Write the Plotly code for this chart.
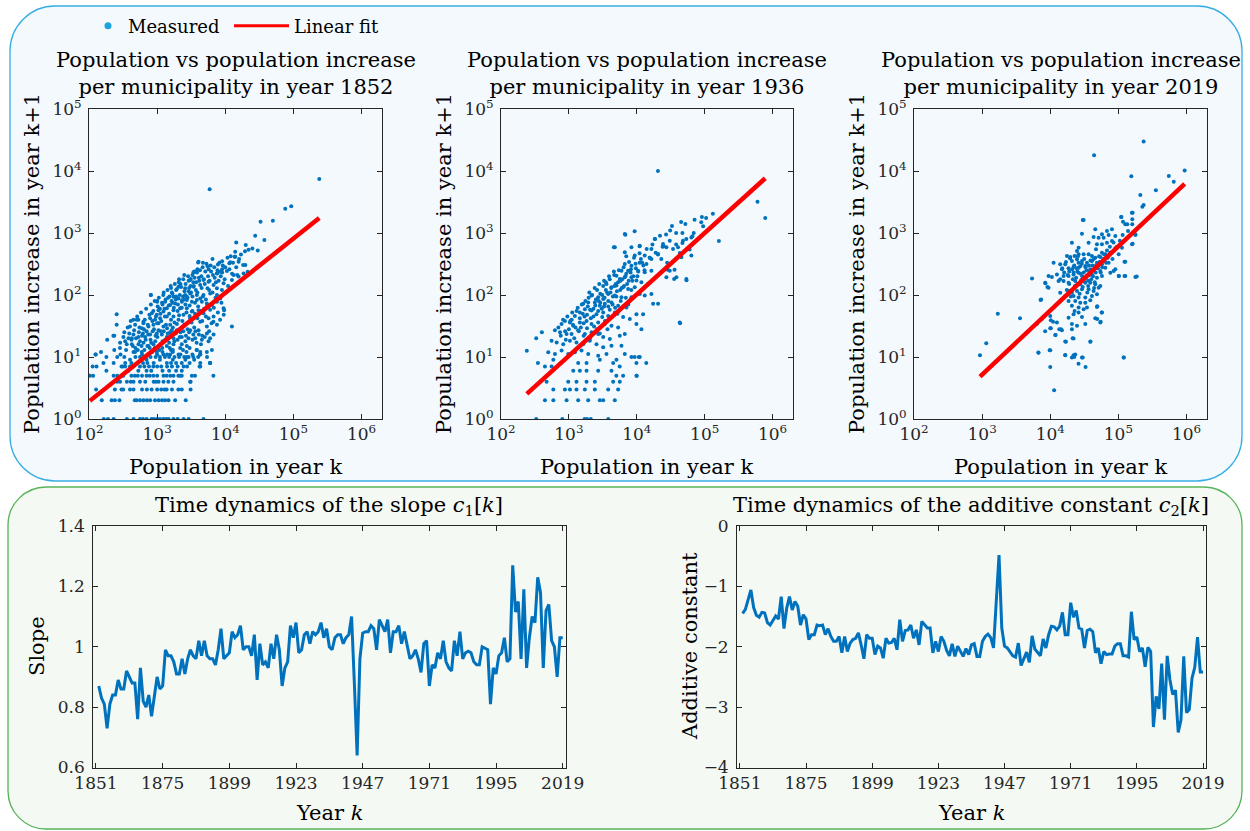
import numpy as np
import plotly.graph_objects as go

W, H = 1250, 831
FONT = "DejaVu Serif"
BLUE = "#0072BD"
INK = "#262626"

def X(p):
    return p / W

def Y(p):
    return 1 - p / H

# ---------------- data: scatter panels (population k, increase k+1) ----------------
pts_1852 = [
    (165,1),(190,1),(230,1),(360,1),(450,1),(560,1),(620,1),(700,1),(830,1),(900,1),(1000,1),(1100,1),(1230,1),(1350,1),(1470,1),(1740,1),(2000,1),(2450,1),(2900,1),(4800,1),
    (154,2),(215,2),(240,2),(280,2),(470,2),(500,2),(560,2),(630,2),(708,2),(790,2),(930,2),(1050,2),(1180,2),(1310,2),(1470,2),(1840,2),(2630,2),
    (127,3),(240,3),(300,3),(318,3),(400,3),(450,3),(600,3),(708,3),(830,3),(1000,3),(1150,3),(1290,3),(1380,3),(1650,3),(2050,3),(2300,3),(3100,3),
    (260,4),(286,4),(360,4),(410,4),(450,4),(560,4),(670,4),(890,4),(960,4),(1050,4),(1240,4),(1460,4),(1740,4),(3100,4),
    (103,5),(115,5),(230,5),(260,5),(318,5),(420,5),(470,5),(520,5),(600,5),(700,5),(780,5),(880,5),(1000,5),(1240,5),(1380,5),(1560,5),(1740,5),(2050,5),(2200,5),(2300,5),(3600,5),(6700,5),
    (180,6),(380,6),(530,6),(700,6),(820,6),(1200,6),(1500,6),(1900,6),(2300,6),
    (113,7),(129,7),(312,7),(340,7),(400,7),(450,7),(560,7),(650,7),(760,7),(880,7),(1000,7),(1150,7),(1400,7),(1650,7),(2000,7),(2450,7),(2750,7),(4200,7),
    (230,8),(340,8),(420,8),(620,8),(720,8),(890,8),(1390,8),(1600,8),(1900,8),(2300,8),(3000,8),(4300,8),(6000,8),
    (400,9),(700,9),(1100,9),(1700,9),(2600,9),(3500,9),
    (180,10),(260,10),(330,10),(480,10),(560,10),(680,10),(800,10),(950,10),(1100,10),(1300,10),(1500,10),(1800,10),(2100,10),(2500,10),(2900,10),(3400,10),(4000,10),(5400,10),
    (125,11),(290,11),(600,11),(1000,11),(1400,11),(2200,11),(3300,11),(4300,11),
    (150,12),(450,12),(850,12),(1200,12),(1700,12),(2700,12),
    (235,13),(520,13),(950,13),(1600,13),(2400,13),(3800,13),
    (4055,344),(11850,336),(14040,415),(15700,344),(19700,305),(21300,238),(3126,181),(3620,238),(7550,223),(8450,238),
    (10590,244),(13270,210),(15700,198),(18600,223),(4800,175),(5690,164),(6740,145),(9460,154),(12540,175),(2060,136),
    (2580,128),(3420,136),(4290,145),(5490,128),(7550,128),(8940,120),(10590,113),(807,100),(1312,78),(1738,94),
    (2060,88),(2580,100),(3056,106),(3830,100),(4800,100),(6010,106),(7550,100),(8450,88),(1047,57),(1553,69),
    (1840,73),(2305,78),(2730,83),(3236,78),(3830,83),(4540,78),(5370,73),(6370,69),(7550,78),(9460,61),
    (835,51),(989,48),(1240,54),(1388,61),(1738,57),(2180,61),(2730,61),(3236,54),(4055,57),(4800,51),
    (5690,42),(6740,45),(12540,31),(502,40),(630,37),(789,42),(935,40),(1107,42),(1388,45),(1738,45),
    (2060,40),(2440,48),(3056,42),(4290,37),(5370,31),(7550,33),(400,31),(475,33),(596,29),(746,31),
    (883,33),(1047,35),(1240,31),(1553,33),(1945,27),(2440,31),(3056,27),(4055,27),(5370,24),(6740,23),
    (320,21),(380,20),(449,23),(532,21),(667,21),(789,23),(989,24),(1172,23),(1388,21),(1738,20),
    (2305,21),(2890,20),(3620,20),(4540,19),(5690,18),(286,17),(358,16),(425,16),(532,16),(630,17),
    (746,15),(883,16),(1107,16),(1388,15),(1738,16),(2180,14),(2730,15),(3830,13),(5370,12),(6370,13),
    (4290,11),(475,12),(596,12),(746,11),(989,12),(1240,11),(1553,11),(2060,11),(2730,10),(6010,8),
    (4290,7),(3236,5),(3056,4),
    (1200,70),(1450,90),(1650,110),(1900,120),(2200,150),(2400,95),(2600,70),(2900,115),(3100,140),(3400,160),
    (3700,120),(4100,190),(4500,130),(5000,150),(5600,200),(6200,240),(7000,190),(8000,170),(9000,260),(10000,280),
    (1100,60),(1300,45),(1500,50),(1700,75),(2000,55),(2300,62),(2500,85),(2800,90),(3000,68),(3300,95),
    (3600,75),(3900,110),(4300,88),(4700,95),(5200,85),(5800,120),(6500,110),(7200,90),(8800,75),(11000,140),
    (900,28),(1000,35),(1150,38),(1350,33),(1600,40),(1800,36),(2100,47),(2350,38),(2700,52),(3000,46),
    (3300,55),(3600,50),(4000,65),(4400,55),(4900,60),(5400,66),(6000,58),(6800,62),(7800,52),(9500,48),
    (600,22),(700,26),(800,19),(950,22),(1050,27),(1250,26),(1400,29),(1550,25),(1700,30),(1950,34),
    (2200,25),(2500,33),(2800,28),(3200,36),(3500,30),(3900,42),(4600,38),(5200,45),(6300,35),(8400,40),
    (350,13),(420,19),(480,14),(560,18),(650,13),(720,15),(820,17),(920,14),(1080,13),(1200,18),
    (1500,17),(1700,13),(2000,19),(2300,16),(2600,18),(3000,14),(3400,23),(3800,17),(4600,22),(5800,26),
    (1000,80),(1250,110),(1600,130),(1900,95),(2100,180),(2500,210),(2900,170),(3400,230),(3900,260),(4700,330),
    (5500,290),(6500,380),(7800,310),(9000,350),(12000,420),(14000,500),(16000,380),(20000,640),(25000,560),(30000,520),
    (5900,5100),(240000,7400),(93000,2700),(76000,2450),(50000,1580),(33000,1520),(27500,900),(37500,770),(14500,700),(19500,510),
    (22000,535),(13700,415),(11500,325),(18300,305),(4000,335),(3500,240),(7600,225),(9000,230),(15000,210),(12600,220),
    (810,100),(1000,78),(255,49),(255,33),(185,19),(235,22),(125,11),(163,8),(9600,57),(6700,37),
    (6000,20),(4300,12),(228,22),(285,14),(300,7),(425,20),(447,40),(530,40),(630,35),(6000,8),
    (330,25),(370,30),(410,38),(460,27),(510,45),(550,30),(580,52),(620,24),(660,40),(690,60),
    (730,33),(770,48),(810,70),(850,38),(880,55),(920,80),(960,45),(1020,65),(1060,90),(1120,50),
    (1180,75),(1230,100),(1280,60),(1330,85),(1420,120),(1480,68),(1520,95),(1580,140),(1630,80),(1680,105),
    (1760,62),(1820,150),(1880,85),(1950,125),(2020,70),(2080,160),(2150,100),(2250,135),(2320,82),(2420,180),
    (2520,115),(2620,150),(2720,95),(2850,200),(2950,130),(3050,175),(3150,110),(3300,210),(3450,140),(3550,190),
    (3750,160),(3850,230),(4150,170),(4250,250),(4450,200),(4650,280),(4850,180),(5100,240),(5300,320),(5700,260),
    (5900,170),(6100,300),(6600,210),(6900,280),(7300,160),(7700,250),(8200,330),(8600,200),(9200,300),(9800,180),
    (10800,400),(11500,260),(13000,330),(14500,280),(17000,450),
    (340,18),(390,24),(440,15),(490,20),(540,25),(590,15),(640,28),(680,19),(740,23),(780,14),
    (860,26),(940,18),(1010,21),(1130,26),(1190,14),(1310,19),(1430,24),(1530,14),(1640,27),(1790,18),
    (1880,24),(2150,21),(2420,26),(2650,22),(2950,25),(3300,19),(3650,26),(4100,23),(4400,16),(5000,21),
]

pts_1936 = [
    (330,1),(800,1),(1700,1),(1850,1),(2100,1),(3800,1),
    (444,2),(590,2),(925,2),(1370,2),(1925,2),(2855,2),(3200,2),(4750,2),
    (590,3),(874,3),(1035,3),(1295,3),(1720,3),(2410,3),(3790,3),(5310,3),
    (470,4),(978,4),(1295,4),(1820,4),(2410,4),(4490,4),(5620,4),
    (6290,5),(9880,5),(5000,5),(10000,5),
    (1160,6),(1450,6),(1820,6),(2700,6),(4240,6),
    (444,7),(556,7),(5600,7),(13800,8),(350,8),
    (590,9),(1370,8),(1820,8),(2855,9),(4490,8),(5020,9),(9880,8),
    (8340,10),(11060,10),(9300,10),(10700,10),
    (20500,10000),(600000,3200),(780000,1750),(162000,740),(132000,2050),(91000,1820),(105000,1740),(71000,1630),(89000,1490),(95000,1280),
    (69000,1000),(66000,890),(60000,540),(54000,173),(35500,182),(47000,690),(38000,650),(43000,475),(31000,1100),(47000,1000),
    (9300,1070),(6800,940),(4600,590),(18600,800),(43500,35),(240,12.6),(330,20),(400,25),
    (25000,610),(28000,330),(28500,255),(36000,255),(11000,610),(7000,420),(11000,330),(15500,400),(20500,450),
    (6660,964),(18380,800),(30600,752),(48000,752),(53700,800),(63700,850),(24370,665),(27300,588),(34200,553),(40500,588),
    (4750,588),(6660,488),(8340,588),(11060,625),(16420,553),(13100,432),(9340,432),(20580,459),(63700,432),(45400,406),
    (16420,381),(23000,381),(13860,316),(6660,316),(8340,297),(5950,247),(7450,247),(10450,247),(13100,232),(16420,247),
    (30600,247),(38300,193),(53700,181),(27300,193),(5020,205),(5620,181),(6660,193),(8340,193),(9880,171),(11700,160),
    (14670,151),(3580,151),(4240,133),(5020,142),(6290,133),(7450,125),(9340,133),(11060,104),(13100,98),(16420,104),
    (2155,98),(2700,92),(3200,86),(3790,104),(4750,98),(5950,92),(8340,92),(20580,72),(17400,72),(1625,72),
    (1925,76),(2410,76),(2855,67),(3385,72),(4240,76),(5310,67),(7040,63),(9880,49),(12380,49),(1225,46),
    (1450,52),(1720,59),(2155,56),(2550,49),(3200,52),(3790,46),(4750,52),(6290,44),(7890,41),(9880,34),
    (11700,28),(874,38),(1035,36),(780,34),(1160,32),(1450,36),(1820,38),(2155,34),(2700,36),(3385,34),
    (4240,32),(5310,30),(6660,23.5),(623,27),(740,25),(925,23.5),(1095,23.5),(1370,27),(1720,23.5),(2155,25),
    (2700,23.5),(3200,21),(4010,19.5),(5620,22),(556,18.3),(660,17.2),(826,16),(1035,18.3),(1295,17.2),(1625,16),
    (2035,18.3),(2550,16),(3200,14.3),(4240,15.2),(5950,15.2),(497,11.9),(623,11.2),(780,12.7),(978,11.2),(1225,11.9),
    (1535,12.7),(1925,11.2),(2700,10.5),(3580,11.2),(6660,11.2),(42900,36),
    (1100,40),(1300,55),(1500,30),(1700,45),(1900,65),(2100,42),(2300,60),(2500,85),(2700,55),(2900,75),
    (3100,100),(3300,65),(3500,120),(3800,80),(4100,110),(4400,70),(4700,140),(5000,95),(5300,160),(5700,120),
    (6100,180),(6500,140),(7000,220),(7600,170),(8200,260),(8900,200),(9600,320),(10500,240),(11500,380),(12500,300),
    (1200,20),(1400,26),(1650,22),(1850,29),(2050,20),(2350,31),(2600,28),(2850,24),(3100,44),(3400,38),
    (3700,28),(4000,58),(4400,45),(4800,62),(5200,50),(5800,80),(6300,65),(6900,90),(7500,70),(8300,120),
    (900,19),(1000,28),(1150,33),(1600,50),(2000,110),(2400,130),(2800,150),(3300,170),(3900,200),(4600,240),
    (700,30),(760,22),(820,40),(880,26),(950,45),(1050,38),(1120,52),(1250,30),(1350,62),(1450,42),
    (1550,70),(1650,35),(1750,80),(1850,48),(1950,90),(2050,58),(2200,100),(2300,45),(2450,68),(2600,120),
    (2750,80),(2900,105),(3050,60),(3200,140),(3350,90),(3500,160),(3650,110),(3800,65),(4000,180),(4200,130),
    (4450,95),(4650,210),(4900,150),(5100,115),(5450,250),(5750,170),(6000,130),(6400,280),(6800,200),(7200,150),
    (7700,340),(8100,230),(8600,170),(9100,400),(9700,270),(10200,200),(11000,470),(12000,330),(13000,250),(14000,550),
    (15500,400),(17000,650),(19000,480),(22000,900),(24000,600),(27000,950),(33000,1300),(38000,1000),(45000,1500),(52000,1400),
]

pts_2019 = [
    (235000,30000),(44000,18000),(940000,10200),(550000,8300),(650000,6700),(155000,8200),(355000,4900),(210000,4100),(235000,2830),(225000,2650),
    (158000,2130),(160000,1660),(160000,1380),(110000,1820),(117000,1520),(135000,1380),(178000,930),(162000,670),(123000,345),(123000,203),
    (102000,203),(186000,198),(30000,1620),(5400,185),(3600,42),(1700,50),(1150,16.6),(930,10.7),(7200,83),(8500,155),
    (9100,134),(6700,11.8),(9800,12.8),(10000,6.9),(11400,2.9),(16600,10.7),(22000,10.7),(22500,10),(30000,9.8),(26000,7.8),
    (33000,6.9),(39000,17.8),(120000,9.8),(10200,29),(12000,22.6),(14400,28),(10200,39),(11000,37),(16600,17.8),(21300,20),
    (49000,66),(57000,52),(49000,41),(55000,37),
    (30900,1620),(110700,1810),(126500,1380),(162000,2130),(80500,1146),(68000,1077),(57400,953),(45820,1146),(43300,862),(51300,841),
    (60800,841),(72000,929),(90200,895),(115600,929),(138600,1077),(177600,953),(29200,977),(158500,656),(36560,698),(48500,656),
    (57400,656),(68000,698),(80500,743),(20800,698),(24700,512),(26070,580),(90200,566),(113000,580),(76200,482),(57400,482),
    (46900,546),(17600,426),(19700,410),(22800,426),(26070,453),(30900,453),(36560,453),(40930,426),(45820,400),(54300,410),
    (64300,453),(101000,453),(11200,332),(14000,312),(16600,312),(20800,354),(24700,376),(29200,354),(34600,332),(40930,354),
    (48500,332),(57400,312),(72000,332),(126500,345),(14830,260),(18580,269),(22000,283),(26070,276),(32700,294),(38700,260),
    (45820,276),(54300,244),(64300,276),(90200,260),(76200,229),(85200,244),(101000,203),(126500,203),(177600,195),(9440,203),
    (10570,195),(12530,215),(15700,203),(18580,203),(22000,215),(26070,229),(34600,203),(40930,215),(48500,190),(57400,203),
    (8430,158),(13250,168),(15700,168),(18580,158),(23300,168),(27600,149),(32700,158),(38700,158),(45820,149),(54300,140),
    (9440,131),(14000,109),(18580,116),(20800,109),(24700,116),(29200,124),(36560,124),(43300,116),(51300,131),(16600,96),
    (22000,96),(26070,91),(32700,91),(40930,96),(48500,103),(7360,85),(18580,80),(23300,80),(27600,75),(32700,75),
    (38700,82),(20800,67),(26070,63),(30900,59),(34600,63),(48500,64),(22800,55),(26070,52),(57400,52),(10000,46),
    (18580,43),(22000,49),(29200,44),(45820,42),(7530,41),(12530,36),(54300,36),(6350,34),(20800,34),(24700,32),
    (32700,34),(10000,29),(13550,28),(14830,27),(8430,26),(20800,28),(11830,22.6),(22000,19.8),(17000,17.7),(38700,17.7),
    (6730,11.7),(10000,12.8),(16600,10.8),(20800,9.8),(23300,11),(29200,9.8),(119700,9.8),
    (16000,230),(19000,150),(21000,260),(24000,190),(26000,330),(28000,220),(31000,170),(33000,280),(36000,140),(39000,360),
    (42000,250),(47000,300),(52000,420),(60000,380),(68000,520),(75000,600),(85000,700),(17500,120),(20000,95),(23000,140),
    (27000,105),(30000,135),(35000,110),(40000,180),(45000,160),(55000,230),
    (14000,180),(15000,270),(17000,340),(18000,210),(19500,390),(21500,180),(22500,300),(25000,240),(25500,420),(27500,290),
    (29500,200),(31500,380),(34000,250),(37000,300),(37500,210),(41500,300),(43500,380),(46500,230),(50000,270),(53000,340),
    (58000,280),(62000,450),(66000,330),(70000,400),(78000,480),(82000,380),(95000,600),(105000,750),(25000,150),(28500,175),
    (31000,230),(33500,190),(38000,240),(42500,200),(22000,230),(19000,240),(24500,270),(29000,320),(36000,170),(44000,130),
]

# linear fit on log10 scale: log10(dP) = slope*log10(P) + const
fit_1852 = (0.876, -1.47)
fit_1936 = (0.99, -1.95)
fit_2019 = (1.035, -2.39)

# ---------------- data: time dynamics ----------------
slope_c1 = [
    0.87,0.83,0.81,0.73,0.81,0.84,0.84,0.89,0.86,0.86,0.92,0.90,0.88,0.88,0.76,0.93,0.82,0.80,0.84,0.77,
    0.84,0.90,0.86,0.87,0.99,0.97,0.97,0.95,0.91,0.91,0.96,0.91,0.96,0.99,0.97,0.96,1.02,0.97,1.02,0.97,
    0.96,0.96,0.94,0.99,1.06,0.96,0.97,0.98,1.05,1.03,1.04,1.07,0.99,1.00,1.00,0.97,1.04,0.89,1.01,0.94,
    0.95,0.93,1.01,0.96,1.04,0.99,0.87,0.93,0.95,1.07,1.03,1.08,0.98,0.99,1.04,1.05,1.01,1.05,1.04,1.05,
    1.08,1.03,1.06,1.00,0.99,1.03,1.04,1.04,1.01,1.03,1.04,1.10,0.88,0.64,0.96,1.045,1.05,1.05,1.07,1.06,
    0.99,1.09,1.07,1.05,1.09,0.98,1.05,1.05,1.07,1.01,1.05,1.00,0.96,0.97,0.99,0.96,0.915,1.01,1.02,0.87,
    0.94,0.93,0.98,0.96,1.02,0.95,0.93,0.92,1.02,0.97,1.05,0.96,0.98,0.985,0.98,0.95,0.94,0.94,1.00,0.995,
    0.99,0.81,0.93,0.91,0.97,0.98,1.03,0.95,0.96,1.27,1.115,1.15,0.96,1.19,0.93,1.03,1.10,1.08,1.23,1.18,
    0.93,1.12,1.14,1.02,1.00,0.90,1.03,1.03,
]
const_c2 = [
    -1.45,-1.38,-1.22,-1.06,-1.35,-1.48,-1.51,-1.43,-1.44,-1.60,-1.64,-1.565,-1.49,-1.54,-1.17,-1.70,-1.36,-1.17,-1.39,-1.25,
    -1.33,-1.64,-1.47,-1.54,-1.88,-1.80,-1.80,-1.64,-1.65,-1.64,-1.80,-1.70,-1.83,-1.91,-1.91,-1.83,-2.10,-1.83,-2.08,-1.94,
    -1.88,-1.86,-1.77,-1.97,-2.20,-1.80,-1.86,-1.86,-2.13,-1.99,-2.02,-2.19,-1.86,-1.94,-1.93,-1.86,-2.05,-1.55,-1.91,-1.73,
    -1.72,-1.64,-1.86,-1.72,-1.97,-1.58,-1.64,-1.69,-1.69,-2.10,-1.91,-2.08,-1.83,-1.91,-2.06,-2.15,-1.95,-2.16,-1.99,-2.08,
    -2.16,-2.03,-2.13,-1.97,-1.95,-2.16,-2.16,-1.91,-1.83,-1.79,-1.85,-2.02,-1.20,-0.48,-1.69,-1.99,-2.02,-2.09,-2.15,-2.17,
    -1.94,-2.31,-2.19,-2.09,-2.26,-1.82,-2.04,-2.09,-2.15,-1.87,-2.02,-1.80,-1.66,-1.67,-1.72,-1.66,-1.43,-1.80,-1.80,-1.27,
    -1.51,-1.40,-1.69,-1.71,-2.02,-1.73,-1.71,-1.75,-2.10,-2.02,-2.28,-2.08,-2.13,-2.12,-2.12,-1.99,-1.95,-1.95,-2.15,-2.15,
    -2.17,-1.42,-1.88,-1.84,-2.08,-2.02,-2.33,-2.01,-2.08,-3.33,-2.82,-3.03,-2.28,-3.21,-2.15,-2.55,-2.79,-2.72,-3.42,-3.21,
    -2.16,-3.09,-3.04,-2.52,-2.34,-1.84,-2.42,-2.42,
]
years = list(range(1852, 1852 + len(slope_c1)))
year_ticks = [1851, 1875, 1899, 1923, 1947, 1971, 1995, 2019]
log_ticks = [1, 10, 100, 1e3, 1e4, 1e5, 1e6]
log_labels = ["10<sup>0</sup>", "10<sup>1</sup>", "10<sup>2</sup>", "10<sup>3</sup>",
              "10<sup>4</sup>", "10<sup>5</sup>", "10<sup>6</sup>"]
log_minor = [m * 10 ** e for e in range(0, 7) for m in range(2, 10)]

# ---------------- layout geometry (pixels) ----------------
top_cols = [(89, 382), (501, 793), (914, 1207)]
top_rows = (109, 419)
bot_cols = [(93.2, 565.5), (737.1, 1205.8)]
bot_rows = (526, 767.5)

fig = go.Figure()

panels = [(pts_1852, fit_1852, "1852"), (pts_1936, fit_1936, "1936"), (pts_2019, fit_2019, "2019")]
for i, (pts, fit, yr) in enumerate(panels):
    n = "" if i == 0 else str(i + 1)
    xs = np.array([p[0] for p in pts], dtype=float)
    ys = np.array([p[1] for p in pts], dtype=float)
    fig.add_trace(go.Scatter(x=xs, y=ys, mode="markers", xaxis="x" + n, yaxis="y" + n,
                             marker=dict(size=4, color=BLUE), showlegend=False, hoverinfo="skip"))
    fx = np.array([xs.min(), xs.max()])
    fy = 10 ** (fit[0] * np.log10(fx) + fit[1])
    fig.add_trace(go.Scatter(x=fx, y=fy, mode="lines", xaxis="x" + n, yaxis="y" + n,
                             line=dict(color="#FF0000", width=4.5), showlegend=False, hoverinfo="skip"))

# legend entries
fig.add_trace(go.Scatter(x=[None], y=[None], mode="markers", name="Measured",
                         marker=dict(size=7, color="#1FA3DE"), legend="legend"))
fig.add_trace(go.Scatter(x=[None], y=[None], mode="lines", name="Linear fit",
                         line=dict(color="#FF0000", width=3), legend="legend2"))

fig.add_trace(go.Scatter(x=years, y=slope_c1, mode="lines", xaxis="x4", yaxis="y4",
                         line=dict(color=BLUE, width=3), showlegend=False, hoverinfo="skip"))
fig.add_trace(go.Scatter(x=years, y=const_c2, mode="lines", xaxis="x5", yaxis="y5",
                         line=dict(color=BLUE, width=3), showlegend=False, hoverinfo="skip"))

axis_common = dict(showline=True, linecolor=INK, linewidth=1, mirror="ticks", ticks="inside",
                   ticklen=5, tickwidth=1, tickcolor=INK, showgrid=False, zeroline=False,
                   automargin=False, tickfont=dict(family=FONT, size=17, color=INK))

lay = {}
ov = 6
for i, (x0, x1) in enumerate(top_cols):
    n = "" if i == 0 else str(i + 1)
    lay["xaxis" + n] = dict(axis_common, type="log", range=[2, np.log10(2e6)],
                            tickmode="array", tickvals=log_ticks, ticktext=log_labels,
                            domain=[X(x0), X(x1)], anchor="y" + n)
    lay["yaxis" + n] = dict(axis_common, type="log", range=[0, 5], ticklabelstandoff=3,
                            tickmode="array", tickvals=log_ticks, ticktext=log_labels,
                            domain=[Y(top_rows[1]), Y(top_rows[0])], anchor="x" + n)
    # minor log ticks drawn on overlay axes
    lay["xaxis" + str(ov)] = dict(type="log", range=[2, np.log10(2e6)], overlaying="x" + n,
                                  anchor="y" + n, side="bottom", tickmode="array", tickvals=log_minor,
                                  ticks="inside", ticklen=3, tickwidth=1, tickcolor=INK,
                                  showticklabels=False, showline=False, mirror="ticks",
                                  showgrid=False, zeroline=False, automargin=False)
    lay["yaxis" + str(ov)] = dict(type="log", range=[0, 5], overlaying="y" + n,
                                  anchor="x" + n, side="left", tickmode="array", tickvals=log_minor,
                                  ticks="inside", ticklen=3, tickwidth=1, tickcolor=INK,
                                  showticklabels=False, showline=False, mirror="ticks",
                                  showgrid=False, zeroline=False, automargin=False)
    ov += 1

lay["xaxis4"] = dict(axis_common, range=[1850, 2020], tickvals=year_ticks,
                     domain=[X(bot_cols[0][0]), X(bot_cols[0][1])], anchor="y4")
lay["yaxis4"] = dict(axis_common, range=[0.6, 1.4], dtick=0.2, ticklabelstandoff=4,
                     domain=[Y(bot_rows[1]), Y(bot_rows[0])], anchor="x4")
lay["xaxis5"] = dict(axis_common, range=[1850, 2020], tickvals=year_ticks,
                     domain=[X(bot_cols[1][0]), X(bot_cols[1][1])], anchor="y5")
lay["yaxis5"] = dict(axis_common, range=[-4, 0], dtick=1, ticklabelstandoff=4,
                     domain=[Y(bot_rows[1]), Y(bot_rows[0])], anchor="x5")


def rounded(x0, y0, x1, y1, r):
    k = 0.5523 * r
    return (f"M {X(x0 + r)},{Y(y0)} L {X(x1 - r)},{Y(y0)} "
            f"C {X(x1 - r + k)},{Y(y0)} {X(x1)},{Y(y0 + r - k)} {X(x1)},{Y(y0 + r)} "
            f"L {X(x1)},{Y(y1 - r)} "
            f"C {X(x1)},{Y(y1 - r + k)} {X(x1 - r + k)},{Y(y1)} {X(x1 - r)},{Y(y1)} "
            f"L {X(x0 + r)},{Y(y1)} "
            f"C {X(x0 + r - k)},{Y(y1)} {X(x0)},{Y(y1 - r + k)} {X(x0)},{Y(y1 - r)} "
            f"L {X(x0)},{Y(y0 + r)} "
            f"C {X(x0)},{Y(y0 + r - k)} {X(x0 + r - k)},{Y(y0)} {X(x0 + r)},{Y(y0)} Z")


shapes = [
    dict(type="path", xref="paper", yref="paper", layer="below",
         path=rounded(10, 6, 1242, 481, 45), fillcolor="#F3F9FD",
         line=dict(color="#38ADE2", width=1.3)),
    dict(type="path", xref="paper", yref="paper", layer="below",
         path=rounded(8, 487, 1242, 829, 38), fillcolor="#F4F9F3",
         line=dict(color="#58B35A", width=1.3)),
]

ann = []
title_font = dict(family=FONT, size=21, color="#000000")
label_font = dict(family=FONT, size=21, color="#000000")
for i, (x0, x1) in enumerate(top_cols):
    cx = (x0 + x1) / 2
    yr = panels[i][2]
    ann.append(dict(x=X(cx), y=Y(74), xref="paper", yref="paper", showarrow=False,
                    text=f"Population vs population increase<br>per municipality in year {yr}",
                    font=title_font, xanchor="center", yanchor="middle"))
    ann.append(dict(x=X(cx), y=Y(467), xref="paper", yref="paper", showarrow=False,
                    text="Population in year k", font=label_font,
                    xanchor="center", yanchor="middle"))
    ann.append(dict(x=X(x0 - 57), y=Y(264), xref="paper", yref="paper", showarrow=False,
                    text="Population increase in year k+1", font=label_font, textangle=-90,
                    xanchor="center", yanchor="middle"))

bt = [("Time dynamics of the slope <i>c</i><sub>1</sub>[<i>k</i>]", "Slope", bot_cols[0], 37),
      ("Time dynamics of the additive constant <i>c</i><sub>2</sub>[<i>k</i>]", "Additive constant", bot_cols[1], 690)]
for t, yl, (x0, x1), yx in bt:
    cx = (x0 + x1) / 2
    ann.append(dict(x=X(cx), y=Y(506), xref="paper", yref="paper", showarrow=False,
                    text=t, font=title_font, xanchor="center", yanchor="middle"))
    ann.append(dict(x=X(cx), y=Y(813), xref="paper", yref="paper", showarrow=False,
                    text="Year <i>k</i>", font=label_font, xanchor="center", yanchor="middle"))
    ann.append(dict(x=X(yx), y=Y(646), xref="paper", yref="paper", showarrow=False,
                    text=yl, font=label_font, textangle=-90, xanchor="center", yanchor="middle"))

leg_font = dict(family=FONT, size=18, color="#000000")
fig.update_layout(
    width=W, height=H, margin=dict(l=0, r=0, t=0, b=0, autoexpand=False),
    paper_bgcolor="white", plot_bgcolor="rgba(0,0,0,0)",
    shapes=shapes, annotations=ann,
    legend=dict(orientation="h", x=X(88), y=Y(26), xanchor="left", yanchor="middle",
                bgcolor="rgba(0,0,0,0)", font=leg_font, itemwidth=30),
    legend2=dict(orientation="h", x=X(229), y=Y(26), xanchor="left", yanchor="middle",
                 bgcolor="rgba(0,0,0,0)", font=leg_font, itemwidth=55),
    **lay,
)

fig.write_html("out.html")
